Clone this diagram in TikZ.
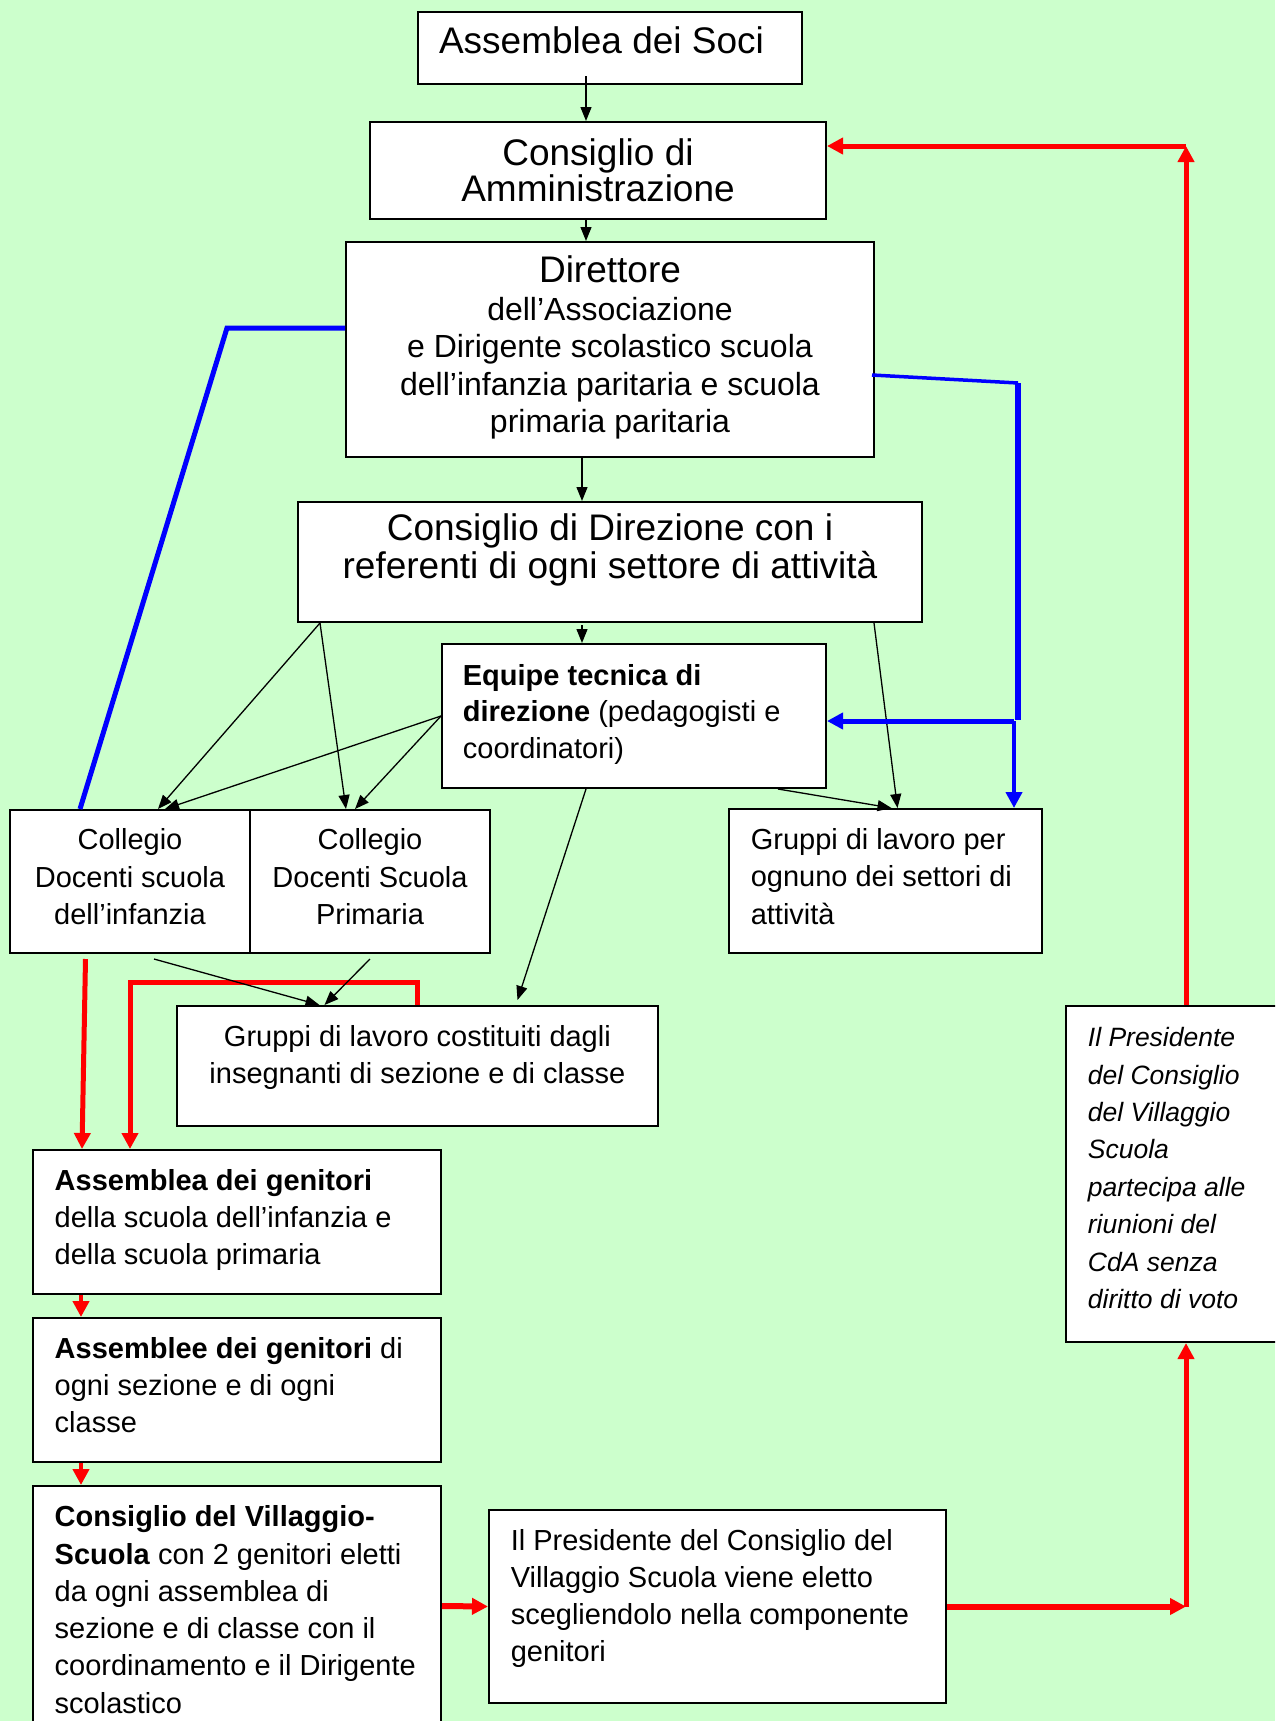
\documentclass[tikz,border=0pt]{standalone}
\usepackage{fontspec}
\setmainfont{Liberation Sans}
\usetikzlibrary{arrows.meta}
\definecolor{bgg}{HTML}{CCFFCC}
\newcommand\mylinesc[2]{\vtop{\baselineskip=#1pt\lineskiplimit=-1000pt\lineskip=0pt\halign{\hfil##\hfil\cr#2\crcr}}}
\newcommand\mylinesl[2]{\vtop{\baselineskip=#1pt\lineskiplimit=-1000pt\lineskip=0pt\halign{##\hfil\cr#2\crcr}}}
\tikzset{
  box/.style={draw=black, line width=2pt, fill=white, inner sep=0pt, rectangle},
  txt/.style={inner sep=0pt, text=black},
  blk/.style={draw=black, line width=1.3pt, -{Triangle[length=14pt,width=11pt]}},
  rd/.style={draw=red, line width=5pt, line join=miter},
  rda/.style={rd, -{Triangle[length=16pt,width=16pt]}},
  bl/.style={draw=blue, line width=5pt, line join=miter},
  bla/.style={bl, -{Triangle[length=16pt,width=16pt]}},
}
\begin{document}
\begin{tikzpicture}[x=1pt,y=-1pt]
\useasboundingbox (0,0) rectangle (1275,1721);
\fill[bgg] (0,0) rectangle (1275,1721);
\clip (0,0) rectangle (1275,1721);

% boxes
\node[box, minimum width=384pt, minimum height=72pt] (as) at (610,48) {};
\node[box, minimum width=456pt, minimum height=97pt] (ca) at (598,170.5) {};
\node[box, minimum width=528pt, minimum height=215pt] (dir) at (610,349.5) {};
\node[box, minimum width=624pt, minimum height=120pt] (cd) at (610,562) {};
\node[box, minimum width=384pt, minimum height=144pt] (eq) at (634,716) {};
\node[box, minimum width=240pt, minimum height=143pt] (ci) at (130,881.5) {};
\node[box, minimum width=240pt, minimum height=143pt] (cp) at (370,881.5) {};
\node[box, minimum width=313pt, minimum height=144pt] (gs) at (885.5,881) {};
\node[box, minimum width=481pt, minimum height=120pt] (gc) at (417.5,1066) {};
\node[box, minimum width=408pt, minimum height=144pt] (ag) at (237,1222) {};
\node[box, minimum width=408pt, minimum height=144pt] (ae) at (237,1390) {};
\node[box, minimum width=408pt, minimum height=274pt] (cv) at (237,1623) {};
\node[box, minimum width=457pt, minimum height=193pt] (pv) at (717.5,1606.5) {};
\node[box, minimum width=234pt, minimum height=336pt] (pr) at (1183,1174) {};

% texts
\node[txt, anchor=base] (as-t) at (601.5,53.3) {\fontsize{37}{37}\selectfont Assemblea dei Soci};
\node[txt, anchor=base] (ca-t) at (598,165) {\fontsize{37}{37}\selectfont\mylinesc{36.7}{Consiglio di\cr Amministrazione}};
\node[txt, anchor=base] (dir-t) at (610,282.5) {\fontsize{32}{37.5}\selectfont\mylinesc{37.5}{{\fontsize{37}{37}\selectfont Direttore}\cr dell’Associazione\cr e Dirigente scolastico scuola\cr dell’infanzia paritaria e scuola\cr primaria paritaria}};
\node[txt, anchor=base] (cd-t) at (610,540.3) {\fontsize{37}{37}\selectfont\mylinesc{37.8}{Consiglio di Direzione con i\cr referenti di ogni settore di attività}};
\node[txt, anchor=base west] (eq-t) at (462.7,685) {\fontsize{29}{37}\selectfont\mylinesl{36.7}{\textbf{Equipe tecnica di}\cr \textbf{direzione} (pedagogisti e\cr coordinatori)}};
\node[txt, anchor=base] (ci-t) at (130,849.8) {\fontsize{29}{37}\selectfont\mylinesc{37.4}{Collegio\cr Docenti scuola\cr dell’infanzia}};
\node[txt, anchor=base] (cp-t) at (370,849.8) {\fontsize{29}{37}\selectfont\mylinesc{37.4}{Collegio\cr Docenti Scuola\cr Primaria}};
\node[txt, anchor=base west] (gs-t) at (750.6,849.4) {\fontsize{29}{37}\selectfont\mylinesl{37.4}{Gruppi di lavoro per\cr ognuno dei settori di\cr attività}};
\node[txt, anchor=base] (gc-t) at (417.4,1046) {\fontsize{29}{37}\selectfont\mylinesc{37.6}{Gruppi di lavoro costituiti dagli\cr insegnanti di sezione e di classe}};
\node[txt, anchor=base west] (ag-t) at (54.5,1190.3) {\fontsize{29}{37}\selectfont\mylinesl{37.2}{\textbf{Assemblea dei genitori}\cr della scuola dell’infanzia e\cr della scuola primaria}};
\node[txt, anchor=base west] (ae-t) at (54.5,1358.3) {\fontsize{29}{37}\selectfont\mylinesl{37.3}{\textbf{Assemblee dei genitori} di\cr ogni sezione e di ogni\cr classe}};
\node[txt, anchor=base west] (cv-t) at (54.5,1526.7) {\fontsize{29}{37}\selectfont\mylinesl{37.3}{\textbf{Consiglio del Villaggio-}\cr \textbf{Scuola} con 2 genitori eletti\cr da ogni assemblea di\cr sezione e di classe con il\cr coordinamento e il Dirigente\cr scolastico}};
\node[txt, anchor=base west] (pv-t) at (510.6,1550) {\fontsize{29}{37}\selectfont\mylinesl{37}{Il Presidente del Consiglio del\cr Villaggio Scuola viene eletto\cr scegliendolo nella componente\cr genitori}};
\node[txt, anchor=base west] (pr-t) at (1087.7,1046.7) {\fontsize{26.5}{37}\selectfont\itshape\mylinesl{37.4}{Il Presidente\cr del Consiglio\cr del Villaggio\cr Scuola\cr partecipa alle\cr riunioni del\cr CdA senza\cr diritto di voto}};

% black connectors
\draw[blk] ([xshift=-24pt,yshift=9pt]as.south) -- ([xshift=-12pt]ca.north);
\draw[blk] ([xshift=-12pt]ca.south) -- ([xshift=-24pt]dir.north);
\draw[blk] ([xshift=-28pt]dir.south) -- ([xshift=-28pt]cd.north);
\draw[blk] ([xshift=-28pt,yshift=-2pt]cd.south) -- ([xshift=-52pt]eq.north);
\draw[blk] ([xshift=23pt]cd.south west) -- ([xshift=28pt]ci.north);
\draw[blk] ([xshift=23pt]cd.south west) -- ([xshift=-24pt]cp.north);
\draw[blk] (eq.west) -- ([xshift=35pt]ci.north);
\draw[blk] (eq.west) -- ([xshift=-15pt]cp.north);
\draw[blk] ([xshift=-48pt]eq.south) -- ([xshift=100pt,yshift=5pt]gc.north);
\draw[blk] ([xshift=-49pt]cd.south east) -- ([xshift=12pt]gs.north);
\draw[blk] ([xshift=144pt]eq.south) -- ([xshift=6pt]gs.north);

% red connectors
\coordinate (rg1) at (417.5,982);
\coordinate (rg2) at (130,982);
\coordinate (rr1) at (1186,1606.5);
\coordinate (rr2) at (1186,146);
\draw[rda] ([xshift=-44.5pt,yshift=-5pt]ci.south) -- ([xshift=-155pt]ag.north);
\draw[rda] (gc.north) -- (rg1) -- (rg2) -- ([xshift=-107pt]ag.north);
\draw[blk] ([xshift=24pt,yshift=-5pt]ci.south) -- ([xshift=-98pt]gc.north);
\draw[blk] ([yshift=-5pt]cp.south) -- ([xshift=-93pt]gc.north);
\draw[rda, line width=4pt] ([xshift=-156pt]ag.south) -- ([xshift=-156pt]ae.north);
\draw[rda, line width=4pt] ([xshift=-156pt]ae.south) -- ([xshift=-156pt]cv.north);
\draw[rda, line width=6pt] ([yshift=17pt]cv.east) -- (pv.west);
\draw[rda, line width=6pt] (pv.east) -- (rr1);
\draw[rda] (rr1) -- ([xshift=3pt]pr.south);
\draw[rda] ([xshift=3pt]pr.north) -- (rr2);
\draw[rda] (rr2) -- ([yshift=24.5pt]ca.east);

% blue connectors
\coordinate (bl1) at (227,328);
\coordinate (br1) at (1018,383);
\coordinate (br2) at (1018,720);
\coordinate (br3) at (1014,721);
\draw[bl] ([yshift=21.5pt]dir.west) -- (bl1) -- ([xshift=-50pt]ci.north);
\draw[bl, line width=3.5pt] ([xshift=-3pt,yshift=-25.5pt]dir.east) -- (br1);
\draw[bl, line width=5.5pt] (br1) -- (br2);
\draw[bla] (br3) -- ([yshift=-5pt]eq.east);
\draw[bla, line width=4pt] (br3) -- ([xshift=128.5pt]gs.north);
\end{tikzpicture}
\end{document}
